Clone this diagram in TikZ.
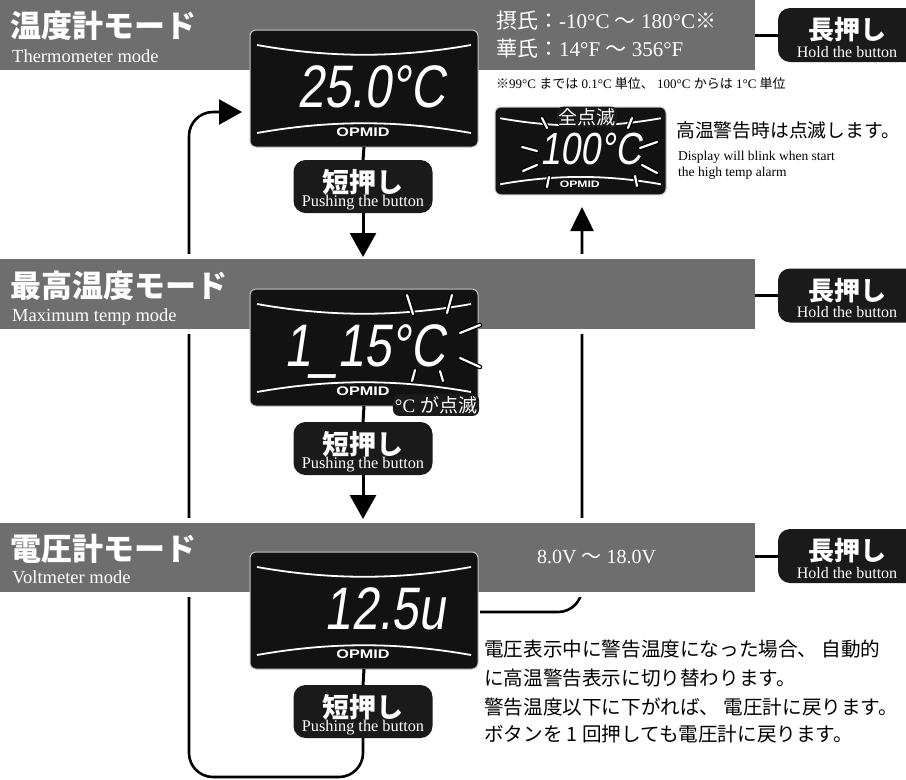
\documentclass[tikz,border=0pt]{standalone}
\usepackage{fontspec}
\setmainfont{Liberation Serif}
\newfontfamily\jp{Noto Sans CJK JP}
\newfontfamily\seg{Liberation Sans}[FakeSlant=0.15, FakeStretch=0.8]
\newfontfamily\logo{Liberation Sans}[FakeStretch=1.3]
\usetikzlibrary{arrows.meta,calc}
\definecolor{bandgray}{HTML}{6E6E6E}
\definecolor{boxblack}{HTML}{1A1A1A}
\definecolor{lcdblack}{HTML}{121212}
\tikzset{
  band/.style={fill=bandgray, preaction={draw=white, line width=10pt}, inner sep=0pt, outer sep=0pt, anchor=north west, minimum width=755pt},
  lpbox/.style={fill=boxblack, rounded corners=12pt, minimum width=140pt, minimum height=54pt, inner sep=0pt, outer sep=0pt, anchor=west},
  sbbox/.style={fill=boxblack, rounded corners=12pt, minimum width=139pt, minimum height=53pt, inner sep=0pt, outer sep=0pt},
  lcdbox/.style={fill=lcdblack, draw=gray!45, line width=1pt, rounded corners=6pt, minimum width=228pt, minimum height=117pt, inner sep=0pt, outer sep=0pt},
  lcdline/.style={draw=white, line width=1.8pt},
  opmid/.style={font=\logo\bfseries\fontsize{12.5}{12.5}\selectfont, text=white, inner sep=0pt},
  segtxt/.style={font=\seg\fontsize{60}{60}\selectfont, text=white, inner sep=0pt, anchor=base east},
  titlejp/.style={font=\jp\bfseries\fontsize{31}{31}\selectfont, text=white, inner sep=0pt, anchor=west},
  titleen/.style={font=\fontsize{18.5}{18.5}\selectfont, text=white, inner sep=0pt, anchor=base west},
  btnjp/.style={font=\jp\bfseries\fontsize{27}{27}\selectfont, text=white, inner sep=0pt},
  btnen/.style={font=\fontsize{16.3}{16.3}\selectfont, text=white, inner sep=0pt},
  bandtxt/.style={font=\fontsize{21}{21}\selectfont, text=white, inner sep=0pt, anchor=base west},
  notetxt/.style={font=\fontsize{13}{13}\selectfont, inner sep=0pt, anchor=base west},
  bodytxt/.style={font=\jp\fontsize{19.6}{19.6}\selectfont, inner sep=0pt, anchor=west},
  conn/.style={draw=black, line width=3pt},
  loopline/.style={draw=black, line width=2.6pt},
  ray/.style={draw=white, line width=2.2pt, line cap=round, preaction={draw=black, line width=4.6pt, line cap=round}},
  blinklabel/.style={fill=boxblack, text=white, rounded corners=6pt, inner sep=2pt},
  downtip/.style={-{Triangle[length=24pt,width=26pt]}},
  uptip/.style={-{Triangle[length=24pt,width=23pt]}},
  lefttip/.style={-{Triangle[length=23pt,width=25pt]}}
}
\newcommand\lcdpanel[5]{%
  \begin{scope}[shift={(#2,#3)}, scale=#4, transform shape]
    \node[lcdbox, anchor=north west] (#1) at (0,0) {};
    \draw[lcdline] (7,15) .. controls (80,28) and (148,28) .. (221,15);
    \draw[lcdline] (7,103) .. controls (80,90) and (148,90) .. (221,103);
    \node[opmid] at (113,102.5) {OPMID};
    \node[segtxt] at (195,77) {#5};
  \end{scope}}
\newcommand\longpress[2]{%
  \node[lpbox] (#1) at (778,#2) {};
  \node[btnjp, font=\jp\bfseries\fontsize{26}{26}\selectfont] at ($(#1.west)+(69,-5)$) {長押し};
  \node[btnen, font=\fontsize{16}{16}\selectfont] at ($(#1.west)+(69,17)$) {Hold the button};}
\newcommand\shortpress[2]{%
  \node[sbbox] (#1) at (363,#2) {};
  \node[btnjp] at ($(#1.center)+(0,-4)$) {短押し};
  \node[btnen] at ($(#1.center)+(0,16.5)$) {Pushing the button};}
\begin{document}
\begin{tikzpicture}[x=1pt, y=-1pt]
\useasboundingbox (0,0) rectangle (906,780);
\clip (0,0) rectangle (906,780);

% loop lines (behind the bands)
\coordinate (lbr) at (363,777);
\coordinate (lbl) at (189,777);
\coordinate (ltl) at (189,112);
\coordinate (lin) at (242,112);
\coordinate (rs) at (480,612);
\coordinate (rc) at (582,612);
\coordinate (rt) at (582,207);
\shortpress{sb3}{711.5}
\draw[loopline, rounded corners=24pt, lefttip] (sb3.south) -- (lbr) -- (lbl) -- (ltl) -- (lin);
\draw[loopline, rounded corners=24pt, uptip] (rs) -- (rc) -- (rt);

% bands
\node[band, minimum height=70pt] (b1) at (0,0) {};
\node[band, minimum height=70pt] (b2) at (0,259) {};
\node[band, minimum height=69pt] (b3) at (0,523) {};

\node[titlejp] at (10,26) {温度計モード};
\node[titleen] at (12,62) {Thermometer mode};
\node[titlejp] at (10,286) {最高温度モード};
\node[titleen] at (12,321) {Maximum temp mode};
\node[titlejp] at (10,548.5) {電圧計モード};
\node[titleen] at (12,583) {Voltmeter mode};

\node[bandtxt] at (496,28) {{\jp 摂氏：}-10°C {\jp ～} 180°C{\jp ※}};
\node[bandtxt] at (496,56.5) {{\jp 華氏：}14°F {\jp ～} 356°F};
\node[bandtxt, font=\fontsize{20}{20}\selectfont] at (537,563) {8.0V {\jp ～} 18.0V};

% displays
\lcdpanel{d1}{250}{30}{1}{25.0°C}
\lcdpanel{d2}{250}{289}{1}{1\_15°C}
\lcdpanel{d3}{250}{552}{1}{12.5u}
\lcdpanel{wd}{495}{107}{0.75}{100°C}

\draw[ray] (407,295) -- (413,314) (452,295) -- (447,313) (460,333) -- (480,325)
  (460,358) -- (480,367) (412,381) -- (415,370) (443,381) -- (440,371);
\node[blinklabel, font=\fontsize{19}{19}\selectfont] (bl2) at (436,405) {°C {\jp が点滅}};

\draw[ray] (542,118) -- (547,128) (632,118) -- (628,128) (522,147) -- (537,151)
  (523,171) -- (537,165) (640,148) -- (657,142) (642,165) -- (657,173)
  (547,187) -- (549,177) (637,186) -- (635,176);
\node[blinklabel, font=\jp\fontsize{19}{19}\selectfont, inner sep=1.5pt] (bl1) at (587,117) {全点滅};

% short press boxes and arrows
\shortpress{sb1}{186.5}
\shortpress{sb2}{448.5}
\draw[conn] (d1.south) -- (sb1.north);
\draw[conn] (d2.south) -- (sb2.north);
\draw[conn] (d3.south) -- (sb3.north);
\draw[conn, downtip, shorten >=2pt] (sb1.south) -- (sb1.south |- b2.north);
\draw[conn, downtip, shorten >=4pt] (sb2.south) -- (sb2.south |- b3.north);

% long press boxes
\longpress{lp1}{35}
\longpress{lp2}{295.5}
\longpress{lp3}{556}
\draw[conn] (lp1.west -| b1.east) -- (lp1.west);
\draw[conn, line width=2.4pt] (lp2.west -| b2.east) -- (lp2.west);
\draw[conn] (lp3.west -| b3.east) -- (lp3.west);

% texts outside bands
\node[notetxt] at (496,88) {{\jp ※}99°C {\jp までは} 0.1°C {\jp 単位、} 100°C {\jp からは} 1°C {\jp 単位}};
\node[bodytxt, font=\jp\fontsize{18.8}{18.8}\selectfont] at (676,130) {高温警告時は点滅します。};
\node[notetxt, font=\fontsize{13.5}{13.5}\selectfont] at (678,160) {Display will blink when start};
\node[notetxt, font=\fontsize{13.5}{13.5}\selectfont] at (678,176) {the high temp alarm};

\node[bodytxt] at (484,649) {電圧表示中に警告温度になった場合、 自動的};
\node[bodytxt] at (484,678) {に高温警告表示に切り替わります。};
\node[bodytxt] at (484,707) {警告温度以下に下がれば、 電圧計に戻ります。};
\node[bodytxt] at (484,734) {ボタンを 1 回押しても電圧計に戻ります。};
\end{tikzpicture}
\end{document}
